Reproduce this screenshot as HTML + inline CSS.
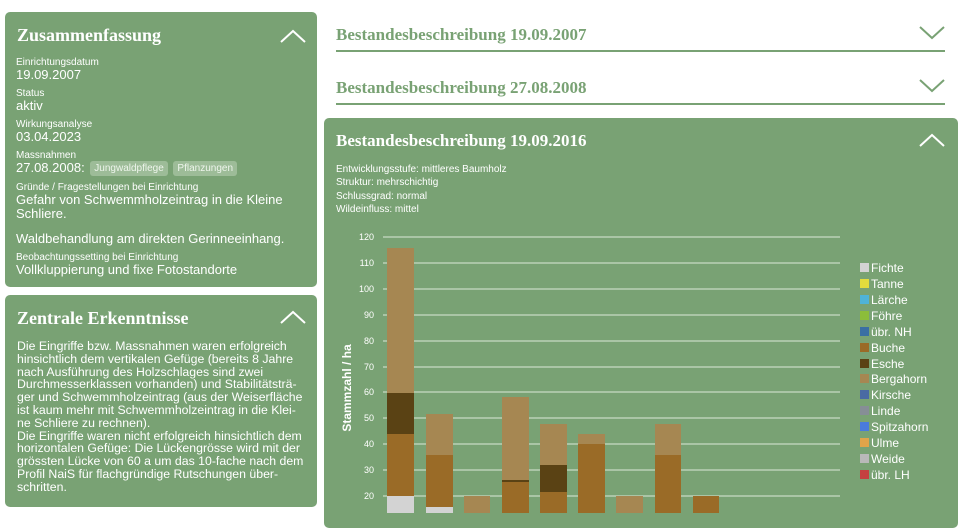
<!DOCTYPE html>
<html><head><meta charset="utf-8"><style>
body{margin:0;width:960px;height:513px;overflow:hidden;background:#fff;font-family:"Liberation Sans",Arial,sans-serif;position:relative}
.card{position:absolute;background:#79a274;border-radius:5px;color:#fff}
.h{font-family:"Liberation Serif",serif;font-weight:bold;position:absolute;white-space:nowrap}
.a{position:absolute;white-space:nowrap}
.lab{font-size:10px;line-height:11px}
.val{font-size:13px;line-height:13px}
.tag{display:inline-block;background:#9dbc98;border-radius:3px;font-size:10px;padding:1px 4px;margin-left:2px;vertical-align:1px;color:#eef5ec}
</style></head><body>

<div class="card" style="left:5px;top:12px;width:312px;height:275px">
 <div class="h" style="left:12px;top:13px;font-size:18px">Zusammenfassung</div>
 <svg style="position:absolute;left:274px;top:16px" width="28" height="16"><polyline points="2,14 14,3 26,14" fill="none" stroke="#fff" stroke-width="2"/></svg>
 <div class="a" style="left:11px;top:45px"><div class="lab">Einrichtungsdatum</div><div class="val">19.09.2007</div></div>
 <div class="a" style="left:11px;top:76px"><div class="lab">Status</div><div class="val">aktiv</div></div>
 <div class="a" style="left:11px;top:107px"><div class="lab">Wirkungsanalyse</div><div class="val">03.04.2023</div></div>
 <div class="a" style="left:11px;top:138px"><div class="lab">Massnahmen</div><div class="val">27.08.2008: <span class="tag">Jungwaldpflege</span> <span class="tag">Pflanzungen</span></div></div>
 <div class="a" style="left:11px;top:170px"><div class="lab">Gründe / Fragestellungen bei Einrichtung</div><div class="val" style="line-height:14px">Gefahr von Schwemmholzeintrag in die Kleine<br>Schliere.<div style="height:11px"></div>Waldbehandlung am direkten Gerinneeinhang.</div></div>
 <div class="a" style="left:11px;top:240px"><div class="lab">Beobachtungssetting bei Einrichtung</div><div class="val">Vollkluppierung und fixe Fotostandorte</div></div>
</div>

<div class="card" style="left:5px;top:295px;width:312px;height:212px">
 <div class="h" style="left:12px;top:13px;font-size:18px">Zentrale Erkenntnisse</div>
 <svg style="position:absolute;left:274px;top:14px" width="28" height="16"><polyline points="2,14 14,3 26,14" fill="none" stroke="#fff" stroke-width="2"/></svg>
 <div class="a" style="left:12px;top:45px;font-size:12.3px;line-height:12.8px;white-space:normal;width:300px">Die Eingriffe bzw. Massnahmen waren erfolgreich<br>hinsichtlich dem vertikalen Gefüge (bereits 8 Jahre<br>nach Ausführung des Holzschlages sind zwei<br>Durchmesserklassen vorhanden) und Stabilitätsträ-<br>ger und Schwemmholzeintrag (aus der Weiserfläche<br>ist kaum mehr mit Schwemmholzeintrag in die Klei-<br>ne Schliere zu rechnen).<br>Die Eingriffe waren nicht erfolgreich hinsichtlich dem<br>horizontalen Gefüge: Die Lückengrösse wird mit der<br>grössten Lücke von 60 a um das 10-fache nach dem<br>Profil NaiS für flachgründige Rutschungen über-<br>schritten.</div>
</div>

<div class="h" style="left:336px;top:25px;font-size:17px;color:#79a274">Bestandesbeschreibung 19.09.2007</div>
<div style="position:absolute;left:336px;top:50px;width:609px;height:2px;background:#79a274"></div>
<svg style="position:absolute;left:918px;top:25px" width="28" height="16"><polyline points="2,2 14,13 26,2" fill="none" stroke="#79a274" stroke-width="2"/></svg>
<div class="h" style="left:336px;top:78px;font-size:17px;color:#79a274">Bestandesbeschreibung 27.08.2008</div>
<div style="position:absolute;left:336px;top:103px;width:609px;height:2px;background:#79a274"></div>
<svg style="position:absolute;left:918px;top:78px" width="28" height="16"><polyline points="2,2 14,13 26,2" fill="none" stroke="#79a274" stroke-width="2"/></svg>

<div class="card" style="left:324px;top:118px;width:634px;height:410px">
 <div class="h" style="left:12px;top:13px;font-size:17px">Bestandesbeschreibung 19.09.2016</div>
 <svg style="position:absolute;left:594px;top:14px" width="28" height="16"><polyline points="2,14 14,3 26,14" fill="none" stroke="#fff" stroke-width="2"/></svg>
 <div class="a" style="left:12px;top:45px;font-size:10px;line-height:13.3px">Entwicklungsstufe: mittleres Baumholz<br>Struktur: mehrschichtig<br>Schlussgrad: normal<br>Wildeinfluss: mittel</div>
</div>

<svg style="position:absolute;left:0;top:0" width="960" height="513" font-family="Liberation Sans, Arial, sans-serif">
 <g stroke="#dce8d9" stroke-width="1">
  <line x1="383" x2="840" y1="237" y2="237"/><line x1="383" x2="840" y1="263" y2="263"/><line x1="383" x2="840" y1="289" y2="289"/><line x1="383" x2="840" y1="315" y2="315"/><line x1="383" x2="840" y1="341" y2="341"/><line x1="383" x2="840" y1="367" y2="367"/><line x1="383" x2="840" y1="392" y2="392"/><line x1="383" x2="840" y1="418" y2="418"/><line x1="383" x2="840" y1="444" y2="444"/><line x1="383" x2="840" y1="470" y2="470"/><line x1="383" x2="840" y1="496" y2="496"/>
 </g>
 <g fill="#fff" font-size="9" text-anchor="end">
  <text x="374" y="240">120</text><text x="374" y="266">110</text><text x="374" y="292">100</text><text x="374" y="318">90</text><text x="374" y="344">80</text><text x="374" y="370">70</text><text x="374" y="395">60</text><text x="374" y="421">50</text><text x="374" y="447">40</text><text x="374" y="473">30</text><text x="374" y="499">20</text>
 </g>
 <text transform="translate(351,388) rotate(-90)" fill="#fff" font-size="12" font-weight="bold" text-anchor="middle">Stammzahl / ha</text>
 <g>
  <rect x="387" y="496" width="27" height="20" fill="#d3d3d3"/>
  <rect x="387" y="434" width="27" height="62" fill="#9a6b27"/>
  <rect x="387" y="393" width="27" height="41" fill="#5a4214"/>
  <rect x="387" y="248" width="27" height="145" fill="#a68752"/>
  <rect x="426" y="507" width="27" height="10" fill="#d3d3d3"/>
  <rect x="426" y="455" width="27" height="52" fill="#9a6b27"/>
  <rect x="426" y="414" width="27" height="41" fill="#a68752"/>
  <rect x="464" y="496" width="26" height="20" fill="#a68752"/>
  <rect x="502" y="482" width="27" height="35" fill="#9a6b27"/>
  <rect x="502" y="480" width="27" height="2" fill="#5a4214"/>
  <rect x="502" y="397" width="27" height="83" fill="#a68752"/>
  <rect x="540" y="492" width="27" height="25" fill="#9a6b27"/>
  <rect x="540" y="465" width="27" height="27" fill="#5a4214"/>
  <rect x="540" y="424" width="27" height="41" fill="#a68752"/>
  <rect x="578" y="444" width="27" height="73" fill="#9a6b27"/>
  <rect x="578" y="434" width="27" height="10" fill="#a68752"/>
  <rect x="616" y="496" width="27" height="20" fill="#a68752"/>
  <rect x="655" y="455" width="26" height="62" fill="#9a6b27"/>
  <rect x="655" y="424" width="26" height="31" fill="#a68752"/>
  <rect x="693" y="496" width="26" height="20" fill="#9a6b27"/>
 </g>
 <g font-size="12" fill="#fff">
  <rect x="860" y="263" width="9" height="9" fill="#d3d3d3"/><text x="871" y="272">Fichte</text>
  <rect x="860" y="279" width="9" height="9" fill="#e3dc3d"/><text x="871" y="288">Tanne</text>
  <rect x="860" y="295" width="9" height="9" fill="#4fb3d8"/><text x="871" y="304">Lärche</text>
  <rect x="860" y="311" width="9" height="9" fill="#8cbd3a"/><text x="871" y="320">Föhre</text>
  <rect x="860" y="327" width="9" height="9" fill="#3a6fa3"/><text x="871" y="336">übr. NH</text>
  <rect x="860" y="343" width="9" height="9" fill="#9a6b27"/><text x="871" y="352">Buche</text>
  <rect x="860" y="359" width="9" height="9" fill="#5a4214"/><text x="871" y="368">Esche</text>
  <rect x="860" y="374" width="9" height="9" fill="#a68752"/><text x="871" y="383">Bergahorn</text>
  <rect x="860" y="390" width="9" height="9" fill="#4a6aa3"/><text x="871" y="399">Kirsche</text>
  <rect x="860" y="406" width="9" height="9" fill="#868e96"/><text x="871" y="415">Linde</text>
  <rect x="860" y="422" width="9" height="9" fill="#4a7bdc"/><text x="871" y="431">Spitzahorn</text>
  <rect x="860" y="438" width="9" height="9" fill="#e0a44a"/><text x="871" y="447">Ulme</text>
  <rect x="860" y="454" width="9" height="9" fill="#b9b9b9"/><text x="871" y="463">Weide</text>
  <rect x="860" y="470" width="9" height="9" fill="#c44040"/><text x="871" y="479">übr. LH</text>
 </g>
</svg>
</body></html>
